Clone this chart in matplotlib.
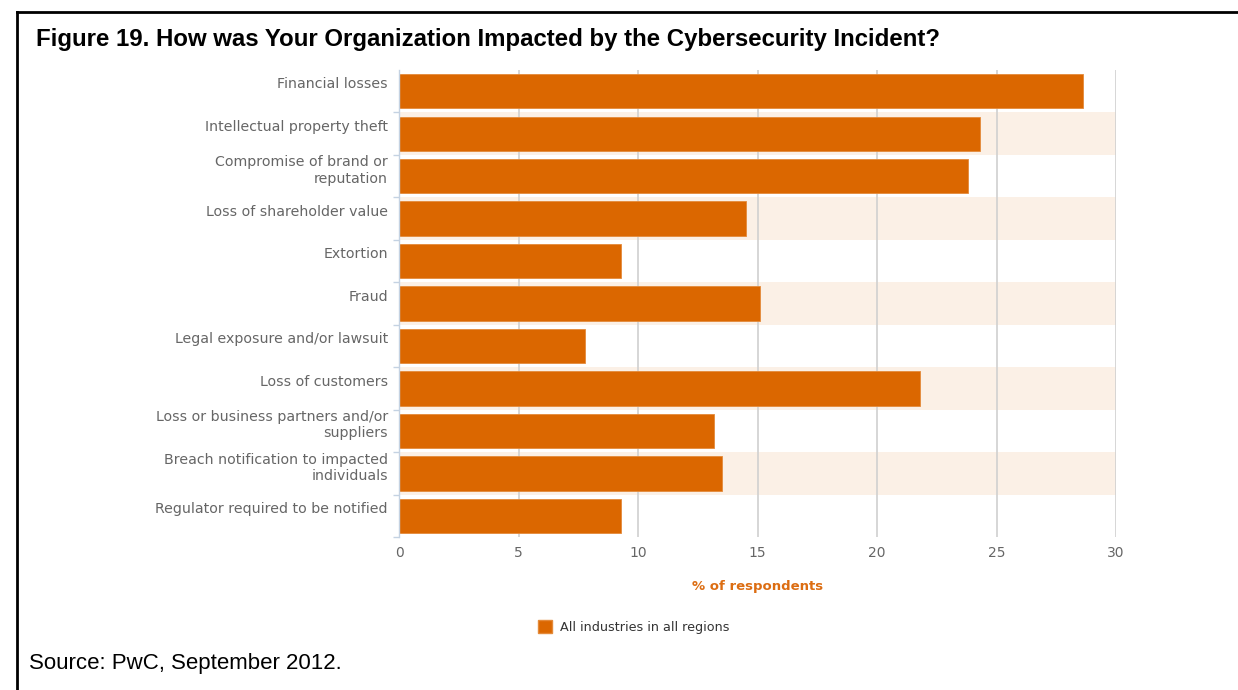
import numpy as np
import matplotlib
matplotlib.use('Agg')
import matplotlib.pyplot as plt
from matplotlib.lines import Line2D
from matplotlib.patches import Patch
from matplotlib.transforms import ScaledTranslation

# data
categories = [
    'Financial losses',
    'Intellectual property theft',
    'Compromise of brand or\nreputation',
    'Loss of shareholder value',
    'Extortion',
    'Fraud',
    'Legal exposure and/or lawsuit',
    'Loss of customers',
    'Loss or business partners and/or\nsuppliers',
    'Breach notification to impacted\nindividuals',
    'Regulator required to be notified',
]
values = [28.6, 24.3, 23.8, 14.5, 9.3, 15.1, 7.8, 21.8, 13.2, 13.5, 9.3]
x_ticks = [0, 5, 10, 15, 20, 25, 30]
series_name = 'All industries in all regions'

title = 'Figure 19. How was Your Organization Impacted by the Cybersecurity Incident?'
source = 'Source: PwC, September 2012.'

bar_color = '#DB6700'
band_color = '#FBF0E6'
W, H = 1238, 690

fig = plt.figure(figsize=(W / 100, H / 100), dpi=100)
ax = fig.add_axes([399 / W, 1 - 537.3 / H, (1116 - 399) / W, (537.3 - 70) / H])

y = np.arange(len(categories))
x_max = x_ticks[-1]

# alternating light bands behind the odd rows
ax.barh(y[1::2], [x_max] * len(y[1::2]), height=1.0, color=band_color, zorder=0.2)
ax.barh(y, values, height=0.81, color=bar_color, edgecolor='#E48A3A', linewidth=0.6, zorder=2)

ax.set_xlim(0, x_max)
ax.set_ylim(len(categories) - 0.5, -0.5)
ax.set_axisbelow(True)
ax.set_xticks(x_ticks)
ax.xaxis.grid(True, color='#D0D0D0', linewidth=1.2)
ax.tick_params(axis='x', length=0, pad=6, labelsize=10, labelcolor='#666666')

for s in ['top', 'right', 'bottom']:
    ax.spines[s].set_visible(False)
ax.spines['left'].set_color('#C4D2E2')
ax.spines['left'].set_linewidth(1)

ax.set_yticks(y)
ax.set_yticklabels(categories)
ax.set_yticks(np.arange(0.5, len(categories)), minor=True)
ax.tick_params(axis='y', which='major', length=0, pad=8, labelsize=10.2, labelcolor='#666666')
ax.tick_params(axis='y', which='minor', length=4, width=1, color='#C4D2E2')
shift = ScaledTranslation(0, 6.0 / 72, fig.dpi_scale_trans)
for lab in ax.get_yticklabels():
    lab.set_linespacing(1.2)
    lab.set_transform(lab.get_transform() + shift)

ax.set_xlabel('% of respondents', color='#DC6D12', fontsize=9.5,
              fontweight='bold', labelpad=15)

fig.legend(handles=[Patch(facecolor=bar_color, edgecolor='#E48A3A', label=series_name)],
           loc='center', bbox_to_anchor=(634 / W, 1 - 627 / H), frameon=False,
           handlelength=1.1, handleheight=1.1, handletextpad=0.6,
           prop={'size': 9.2}, labelcolor='#333333')

fig.text(36 / W, 1 - 46 / H, title, fontsize=17.3, fontweight='bold',
         family='Liberation Sans', va='baseline', ha='left')
fig.text(29 / W, 1 - 669 / H, source, fontsize=16,
         family='Liberation Sans', va='baseline', ha='left')

# outer frame (top and left edges visible in the crop)
fig.add_artist(Line2D([16.7 / W, 1], [1 - 11.7 / H] * 2, color='black', linewidth=2))
fig.add_artist(Line2D([16.7 / W] * 2, [0, 1 - 11.7 / H], color='black', linewidth=2))

fig.savefig('out.png', dpi=100)
